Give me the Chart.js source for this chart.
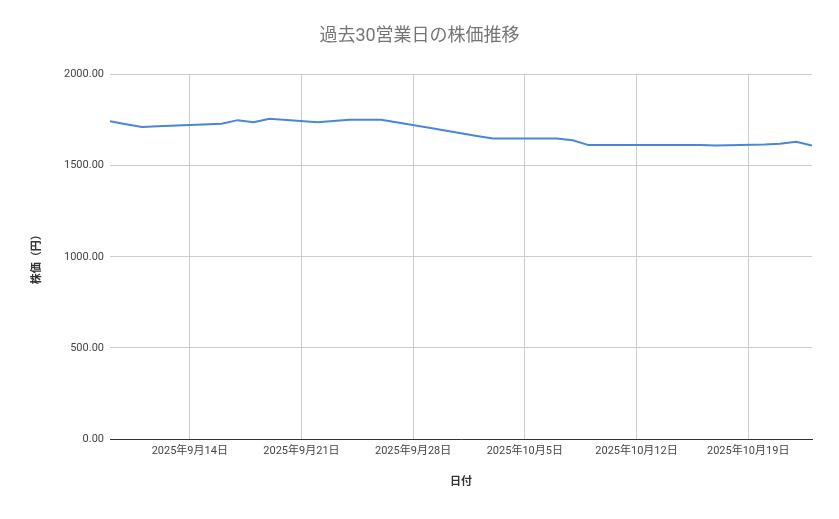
<!DOCTYPE html>
<html><head><meta charset="utf-8">
<script src="https://cdn.jsdelivr.net/npm/chart.js@4"></script>
<style>html,body{margin:0;background:#fff}#w{width:839px;height:519px}</style>
</head><body><div id="w"><canvas id="c"></canvas></div>
<script>
// calendar day offsets from 2025-09-09
const dayOffsets = [0,1,2,3,7,8,9,10,13,15,16,17,20,21,22,23,24,27,28,29,30,31,35,36,37,38,41,42,43,44];
const prices = [1744,1728,1713,1716,1730,1750,1739,1757,1739,1752,1752,1752,1708,1693,1678,1663,1649,1649,1649,1640,1613,1613,1614,1614,1613,1611,1617,1621,1631,1611];
const tickDays = [5,12,19,26,33,40];
const tickLabels = ['2025年9月14日','2025年9月21日','2025年9月28日','2025年10月5日','2025年10月12日','2025年10月19日'];
const font = 'Roboto, "Noto Sans CJK JP", sans-serif';
new Chart(document.getElementById('c'), {
  type: 'line',
  data: { datasets: [{ data: dayOffsets.map((d,i)=>({x:d,y:prices[i]})), borderColor:'#4a86d8', borderWidth:2, pointRadius:0, tension:0 }] },
  options: {
    responsive:true, maintainAspectRatio:false, animation:false,
    layout:{padding:{left:27,right:27,top:0,bottom:26}},
    plugins:{ legend:{display:false}, tooltip:{enabled:false},
      title:{display:true,text:'過去30営業日の株価推移',color:'#757575',font:{family:font,size:18,weight:'normal'},padding:{top:26,bottom:27}} },
    scales:{
      x:{ type:'linear', min:0, max:44,
        afterBuildTicks:s=>{s.ticks=tickDays.map(v=>({value:v}));},
        afterFit:s=>{s.height=54;},
        ticks:{color:'#444',font:{family:font,size:11},maxRotation:0,autoSkip:false,padding:6,
          callback:(v)=>{const i=tickDays.indexOf(v);return i>=0?tickLabels[i]:'';}},
        grid:{color:'#cccccc',drawTicks:false},
        border:{color:'#333'},
        title:{display:true,text:'日付',color:'#333',font:{family:font,size:11,weight:'bold'},padding:{top:20}} },
      y:{ min:0, max:2000,
        afterFit:s=>{s.width=83;},
        ticks:{stepSize:500,color:'#444',font:{family:font,size:11},padding:6,callback:v=>v.toFixed(2)},
        grid:{color:'#cccccc',drawTicks:false},
        border:{display:false},
        title:{display:true,text:'株価（円）',color:'#333',font:{family:font,size:11,weight:'bold'}} }
    }
  }
});
</script></body></html>
